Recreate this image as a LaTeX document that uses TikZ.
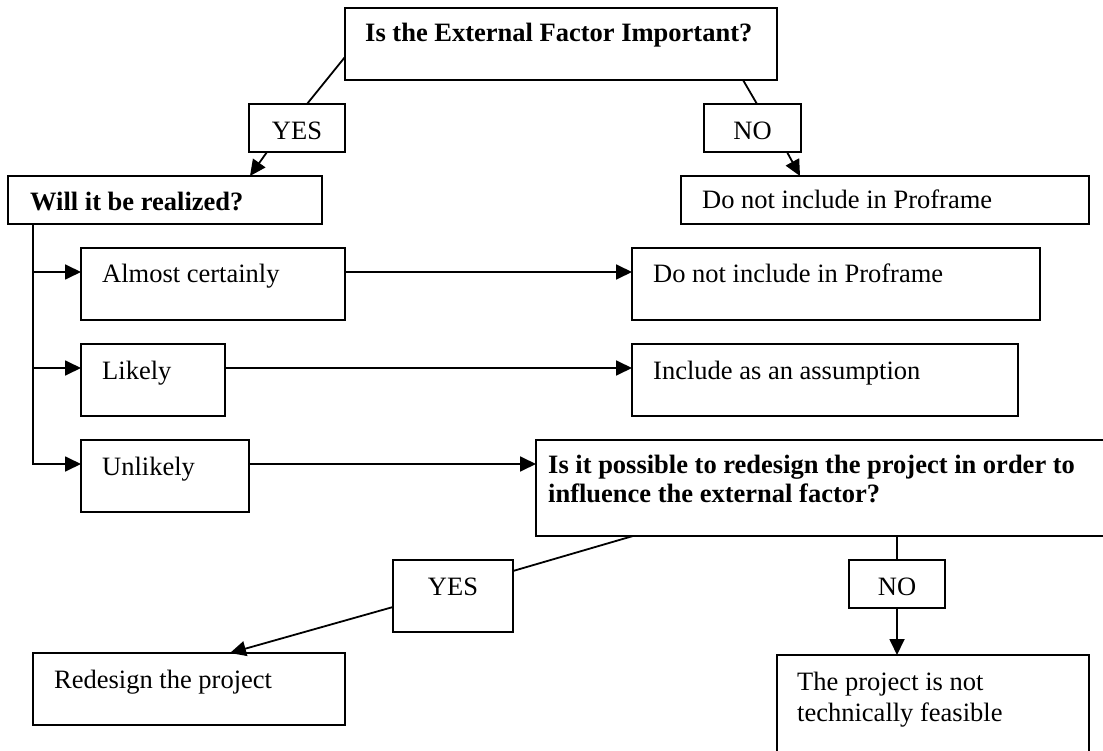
\documentclass[tikz,border=0pt]{standalone}
\usepackage{fontspec}
\setmainfont{Liberation Serif}
\usetikzlibrary{arrows.meta,calc}
\begin{document}
\begin{tikzpicture}[x=1pt,y=-1pt,
  box/.style={draw,line width=2pt,anchor=north west,inner sep=0pt,outer sep=0pt},
  lbl/.style={anchor=base west,inner sep=0pt,font=\fontsize{26.5}{30}\selectfont},
  blbl/.style={lbl,font=\fontsize{26.5}{30}\selectfont\bfseries},
  clbl/.style={anchor=base,inner sep=0pt,font=\fontsize{26.5}{30}\selectfont},
  conn/.style={line width=1.8pt},
  arr/.style={conn,-{Triangle[length=16pt,width=15pt]}}]
\useasboundingbox (0,0) rectangle (1103,751);
\clip (0,0) rectangle (1103,751);
% boxes
\node[box,minimum width=432pt,minimum height=72pt] (top) at (345,8) {};
\node[box,minimum width=96pt,minimum height=48pt] (yesA) at (249,104) {};
\node[box,minimum width=97pt,minimum height=48pt] (noA) at (704,104) {};
\node[box,minimum width=314pt,minimum height=48pt] (will) at (8,176) {};
\node[box,minimum width=408pt,minimum height=48pt] (dni1) at (681,176) {};
\node[box,minimum width=264pt,minimum height=72pt] (almost) at (81,248) {};
\node[box,minimum width=144pt,minimum height=72pt] (likely) at (81,344) {};
\node[box,minimum width=168pt,minimum height=72pt] (unlikely) at (81,440) {};
\node[box,minimum width=408pt,minimum height=72pt] (dni2) at (632,248) {};
\node[box,minimum width=386pt,minimum height=72pt] (incl) at (632,344) {};
\node[box,minimum width=600pt,minimum height=96pt] (quest) at (536,440) {};
\node[box,minimum width=120pt,minimum height=72pt] (yesB) at (393,560) {};
\node[box,minimum width=96pt,minimum height=48pt] (noB) at (849,560) {};
\node[box,minimum width=312pt,minimum height=72pt] (redesign) at (33,653) {};
\node[box,minimum width=312pt,minimum height=100pt] (notfeas) at (777,655) {};
% texts
\node[blbl] (top-t) at ([shift={(20,34)}]top.north west) {Is the External Factor Important?};
\node[clbl] (yesA-t) at ([shift={(0,36)}]yesA.north) {YES};
\node[clbl] (noA-t) at ([shift={(0,36)}]noA.north) {NO};
\node[blbl] (will-t) at ([shift={(22,35)}]will.north west) {Will it be realized?};
\node[lbl] (dni1-t) at ([shift={(21,33)}]dni1.north west) {Do not include in Proframe};
\node[lbl] (almost-t) at ([shift={(21,35)}]almost.north west) {Almost certainly};
\node[lbl] (likely-t) at ([shift={(21,35)}]likely.north west) {Likely};
\node[lbl] (unlikely-t) at ([shift={(21,35)}]unlikely.north west) {Unlikely};
\node[lbl] (dni2-t) at ([shift={(21,35)}]dni2.north west) {Do not include in Proframe};
\node[lbl] (incl-t) at ([shift={(21,35)}]incl.north west) {Include as an assumption};
\node[blbl] (quest-t) at ([shift={(12,33)}]quest.north west)
  {\vtop{\baselineskip=29pt\hbox{Is it possible to redesign the project in order to}\hbox{influence the external factor?}}};
\node[clbl] (yesB-t) at ([shift={(0,35)}]yesB.north) {YES};
\node[clbl] (noB-t) at ([shift={(0,35)}]noB.north) {NO};
\node[lbl] (redesign-t) at ([shift={(21,35)}]redesign.north west) {Redesign the project};
\node[lbl] (notfeas-t) at ([shift={(20,35)}]notfeas.north west)
  {\vtop{\baselineskip=31pt\hbox{The project is not}\hbox{technically feasible}}};
% connectors
\draw[conn] ([shift={(0,49)}]top.north west) -- ([shift={(58,0)}]yesA.north west);
\draw[arr] ([shift={(18,0)}]yesA.south west) -- ([shift={(242,0)}]will.north west);
\draw[conn] ([shift={(398,0)}]top.south west) -- ([shift={(53,0)}]noA.north west);
\draw[arr] ([shift={(83,0)}]noA.south west) -- ([shift={(119,0)}]dni1.north west);
\coordinate (trunk) at ([shift={(25,0)}]will.south west);
\coordinate (a1) at ([shift={(0,24)}]almost.north west);
\coordinate (a2) at ([shift={(0,24)}]likely.north west);
\coordinate (a3) at ([shift={(0,24)}]unlikely.north west);
\draw[arr] (trunk) |- (a3);
\draw[arr] (trunk |- a1) -- (a1);
\draw[arr] (trunk |- a2) -- (a2);
\draw[arr] ([shift={(0,24)}]almost.north east) -- ([shift={(0,24)}]dni2.north west);
\draw[arr] ([shift={(0,24)}]likely.north east) -- ([shift={(0,24)}]incl.north west);
\draw[arr] ([shift={(0,24)}]unlikely.north east) -- ([shift={(0,24)}]quest.north west);
\draw[conn] ([shift={(97,0)}]quest.south west) -- ([shift={(0,11)}]yesB.north east);
\draw[arr] ([shift={(0,47)}]yesB.north west) -- ([shift={(197,0)}]redesign.north west);
\draw[conn] ([shift={(361,0)}]quest.south west) -- (noB.north);
\draw[arr] (noB.south) -- ([shift={(120,0)}]notfeas.north west);
\end{tikzpicture}
\end{document}
